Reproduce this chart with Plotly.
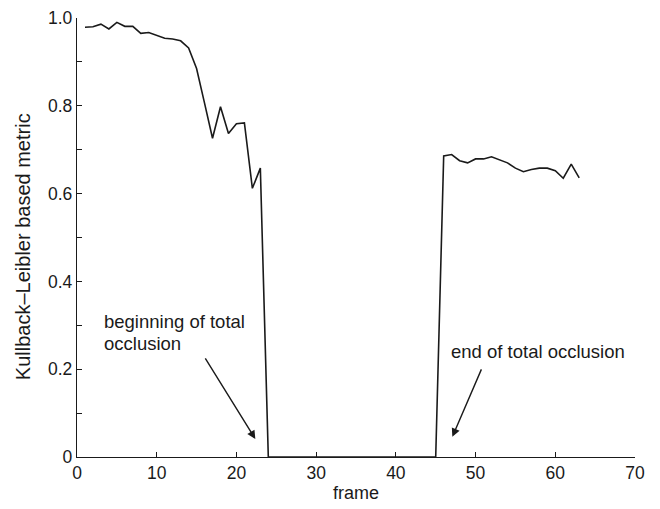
import plotly.graph_objects as go

frames = list(range(1, 64))
seg1 = [0.979, 0.980, 0.986, 0.975, 0.990, 0.981, 0.981, 0.965, 0.967, 0.961,
        0.954, 0.952, 0.948, 0.932, 0.885, 0.806, 0.726, 0.798, 0.737, 0.759,
        0.761, 0.612, 0.658]
seg_zero = [0.0] * 22  # frames 24..45
seg2 = [0.686, 0.689, 0.675, 0.670, 0.679, 0.679, 0.684, 0.677, 0.670, 0.658,
        0.650, 0.655, 0.658, 0.658, 0.652, 0.635, 0.667, 0.636]
metric = seg1 + seg_zero + seg2

x_ticks = [0, 10, 20, 30, 40, 50, 60, 70]
y_ticks = [0, 0.2, 0.4, 0.6, 0.8, 1.0]
y_ticktext = ["0", "0.2", "0.4", "0.6", "0.8", "1.0"]

FONT = "Liberation Sans, Arial, Helvetica, sans-serif"
INK = "#1a1a1a"

fig = go.Figure()
fig.add_trace(go.Scatter(x=frames, y=metric, mode="lines",
                         line=dict(color=INK, width=1.6), showlegend=False))

ann_font = dict(family=FONT, size=18.5, color=INK)
fig.add_annotation(x=3.1, y=0.308, xref="x", yref="y", text="beginning of total",
                   showarrow=False, xanchor="left", yanchor="middle", font=ann_font)
fig.add_annotation(x=3.1, y=0.258, xref="x", yref="y", text="occlusion",
                   showarrow=False, xanchor="left", yanchor="middle", font=ann_font)
fig.add_annotation(x=46.7, y=0.240, xref="x", yref="y", text="end of total occlusion",
                   showarrow=False, xanchor="left", yanchor="middle", font=ann_font)
fig.add_annotation(x=22.37, y=0.041, ax=15.98, ay=0.228, xref="x", yref="y",
                   axref="x", ayref="y", text="", showarrow=True, arrowhead=2,
                   arrowsize=1.2, arrowwidth=1.4, arrowcolor=INK)
fig.add_annotation(x=47.09, y=0.046, ax=50.81, ay=0.203, xref="x", yref="y",
                   axref="x", ayref="y", text="", showarrow=True, arrowhead=2,
                   arrowsize=1.2, arrowwidth=1.4, arrowcolor=INK)
# y-axis title as rotated annotation
fig.add_annotation(x=-0.097, y=0.48, xref="paper", yref="y",
                   text="Kullback\u2013Leibler based metric", textangle=-90,
                   showarrow=False, xanchor="center", yanchor="middle",
                   font=dict(family=FONT, size=20, color=INK))

fig.update_layout(
    width=660, height=509,
    margin=dict(l=77, r=25, t=18, b=52),
    paper_bgcolor="white", plot_bgcolor="white",
    font=dict(family=FONT, size=17.5, color=INK),
)
fig.update_xaxes(range=[0, 70], tickvals=x_ticks, showgrid=False, zeroline=False,
                 automargin=False,
                 showline=True, linecolor=INK, linewidth=1.4, ticks="inside",
                 ticklen=5, tickcolor=INK, tickwidth=1.2,
                 title=dict(text="frame", font=dict(size=18), standoff=4))
fig.update_yaxes(range=[0, 1.0], tickvals=y_ticks, ticktext=y_ticktext,
                 automargin=False,
                 showgrid=False, zeroline=False, showline=True, linecolor=INK,
                 linewidth=1.4, ticks="inside", ticklen=5, tickcolor=INK,
                 tickwidth=1.2,
                 minor=dict(dtick=0.1, ticks="inside", ticklen=5, tickcolor=INK,
                            tickwidth=1.2, showgrid=False))

fig.write_html("out.html")
